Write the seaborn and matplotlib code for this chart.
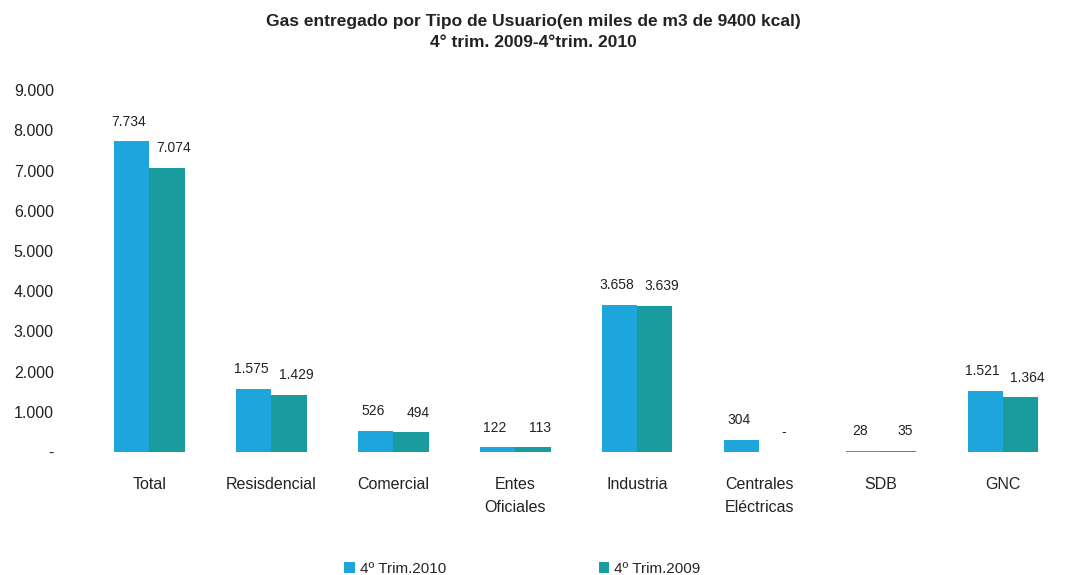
import pandas as pd
import matplotlib
matplotlib.use("Agg")
import matplotlib.pyplot as plt
import seaborn as sns

# Data
categorias = ["Total", "Resisdencial", "Comercial", "Entes\nOficiales", "Industria",
              "Centrales\nEléctricas", "SDB", "GNC"]
trim_2010 = [7734, 1575, 526, 122, 3658, 304, 28, 1521]
trim_2009 = [7074, 1429, 494, 113, 3639, 0, 35, 1364]
series = ["4º Trim.2010", "4º Trim.2009"]
colores = ["#1ea5dc", "#1a9c9f"]
y_ticks = [0, 1000, 2000, 3000, 4000, 5000, 6000, 7000, 8000, 9000]

df = pd.DataFrame({
    "Categoria": categorias * 2,
    "Valor": trim_2010 + trim_2009,
    "Serie": [series[0]] * len(categorias) + [series[1]] * len(categorias),
})


def fmt(v):
    if v == 0:
        return "-"
    return f"{v:,.0f}".replace(",", ".")


sns.set_style("white")
plt.rcParams["font.family"] = ["Liberation Sans", "DejaVu Sans"]

fig = plt.figure(figsize=(10.66, 5.75), dpi=100)
ax = fig.add_axes([0.083, 0.214, 0.915, 0.629])

sns.barplot(data=df, x="Categoria", y="Valor", hue="Serie", palette=colores,
            width=0.58, gap=0, saturation=1, linewidth=0, ax=ax, legend=True)

# value labels: 2010 a bit left, 2009 nudged to the right like the original
for cont, vals, dx in zip(ax.containers, [trim_2010, trim_2009], [-2, 5]):
    texts = ax.bar_label(cont, labels=[fmt(v) for v in vals], padding=9,
                         fontsize=10, color="#222222")
    for t in texts:
        t.xyann = (dx, t.xyann[1])

ax.set_ylim(0, 9000)
ax.set_yticks(y_ticks)
ax.set_yticklabels([fmt(v) for v in y_ticks], fontsize=11.5, color="#222222")
ax.set_xticks(range(len(categorias)))
ax.set_xticklabels(categorias, linespacing=1.7)
ax.tick_params(axis="x", labelsize=11.5, colors="#222222", length=0, pad=18)
ax.tick_params(axis="y", length=0, pad=25)
ax.set_xlabel("")
ax.set_ylabel("")
sns.despine(ax=ax, left=True, bottom=True)

handles, labels = ax.get_legend_handles_labels()
ax.get_legend().remove()
fig.legend(handles, labels, loc="lower center", bbox_to_anchor=(0.49, -0.025), ncol=2,
           frameon=False, fontsize=11, handlelength=0.7, handleheight=0.7,
           handletextpad=0.3, columnspacing=10)

fig.suptitle("Gas entregado por Tipo de Usuario(en miles de m3 de 9400 kcal)\n4° trim. 2009-4°trim. 2010",
             y=0.975, fontsize=12.5, fontweight="bold", color="#222222", linespacing=1.45)

fig.savefig("out.png", dpi=100)
